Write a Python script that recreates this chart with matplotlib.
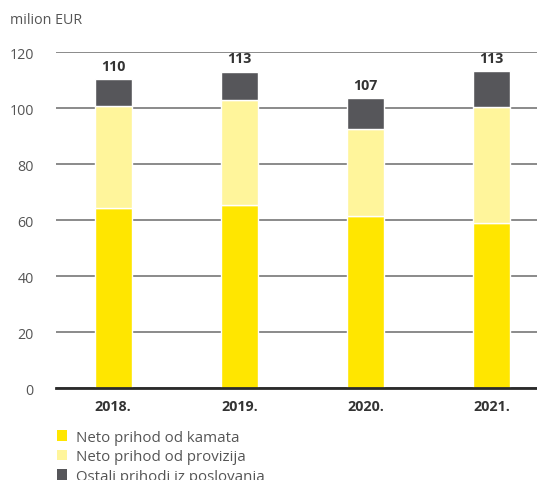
import numpy as np
import matplotlib.pyplot as plt
from matplotlib.patches import Patch

plt.rcParams['font.family'] = ['Open Sans', 'DejaVu Sans']

years = ["2018.", "2019.", "2020.", "2021."]
kamata = [64.5, 65.4, 61.4, 59.0]
provizija = [36.2, 37.5, 31.2, 41.6]
ostali = [9.8, 10.2, 11.0, 12.6]
totals = [110, 113, 107, 113]
series_names = ["Neto prihod od kamata", "Neto prihod od provizija",
                "Ostali prihodi iz poslovanja"]

c_yellow = "#FFE600"
c_light = "#FFF59B"
c_dark = "#56565A"

fig = plt.figure(figsize=(5.37, 4.81), dpi=100)
ax = fig.add_axes([0.104, 0.191, 0.896, 0.698])

x = np.arange(len(years))
w = 0.29
k = np.array(kamata)
p = np.array(provizija)
o = np.array(ostali)
ax.bar(x, k, w, color=c_yellow, edgecolor="white", linewidth=1, zorder=3)
ax.bar(x, p, w, bottom=k, color=c_light, edgecolor="white", linewidth=1, zorder=3)
ax.bar(x, o, w, bottom=k + p, color=c_dark, edgecolor="white", linewidth=1, zorder=3)

for xi, top, t in zip(x, k + p + o, totals):
    ax.text(xi, top + 2.3, str(t), ha="center", va="bottom", fontsize=10.3,
            fontweight="bold", color="#333333")

ax.set_xlim(-0.455, 3.36)
ax.set_ylim(0, 120)
ax.set_yticks(range(0, 121, 20))
ax.yaxis.grid(True, color="#8a8a8a", linewidth=1.4, zorder=0)
ax.set_axisbelow(True)
for s in ["top", "right", "left"]:
    ax.spines[s].set_visible(False)
ax.spines["bottom"].set_color("#2a2a2a")
ax.spines["bottom"].set_linewidth(2)
ax.spines["bottom"].set_zorder(4)
ax.tick_params(axis="y", length=0, pad=16, labelsize=10.3, labelcolor="#555555")
ax.tick_params(axis="x", length=0, pad=8, labelsize=10.3)
ax.set_xticks(x)
ax.set_xticklabels(years, fontweight="bold", color="#333333")

fig.text(0.019, 0.958, "milion EUR", fontsize=10.3, color="#555555", va="center")

handles = [Patch(facecolor=c, edgecolor="none") for c in (c_yellow, c_light, c_dark)]
fig.legend(handles, series_names, loc="upper left", bbox_to_anchor=(0.092, 0.12),
           frameon=False, fontsize=10.8, labelcolor="#555555", handlelength=0.7,
           handleheight=0.7, handletextpad=0.55, labelspacing=0.3, borderpad=0)

fig.savefig("out.png", dpi=100)
